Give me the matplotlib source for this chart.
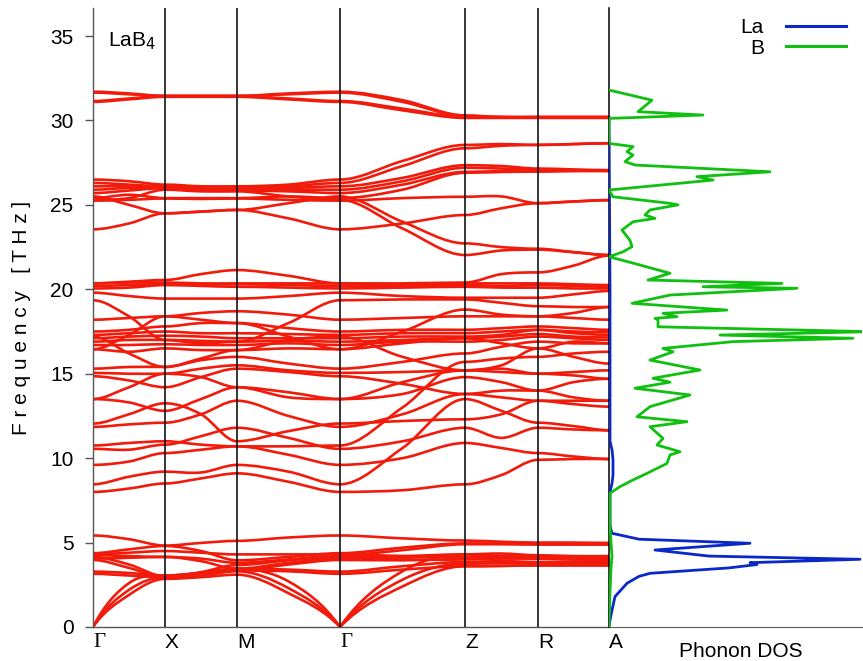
import numpy as np
import matplotlib
matplotlib.use('Agg')
import matplotlib.pyplot as plt
from matplotlib.path import Path
from matplotlib.patches import PathPatch
from matplotlib.lines import Line2D

plt.rcParams['font.family'] = ['Liberation Sans', 'DejaVu Sans']

# high-symmetry path
kpath_labels = ['Γ', 'X', 'M', 'Γ', 'Z', 'R', 'A']
kpath_pos = [0, 72, 144, 247, 372, 445, 516]

# frequencies (THz) read at  Γ, ½, X, ½, M, ½, Γ, ½, Z, ½, R, ½, A
bands_acoustic = [
    [0, 1.9, 2.85, 2.95, 3.1, 2.0, 0, 2.4, 3.6, 3.62, 3.65, 3.65, 3.65],
    [0, 2.2, 2.95, 3.05, 3.3, 2.3, 0, 2.8, 3.75, 3.78, 3.8, 3.8, 3.8],
    [0, 2.6, 3.05, 3.2, 3.45, 2.7, 0, 3.3, 4.3, 4.2, 4.1, 4.05, 4.0],
]
bands_low = [
    [5.42, 5.2, 4.82, 4.98, 5.1, 5.3, 5.42, 5.25, 5.12, 5.05, 5.0, 5.0, 4.98],
    [4.37, 4.6, 4.8, 4.5, 3.95, 4.15, 4.37, 4.7, 4.95, 4.95, 4.95, 4.93, 4.92],
    [4.25, 4.2, 4.15, 4.05, 3.8, 4.0, 4.25, 4.55, 4.9, 4.9, 4.88, 4.88, 4.88],
    [4.15, 3.7, 3.0, 3.25, 3.67, 3.95, 4.15, 4.2, 4.3, 4.35, 4.25, 4.2, 4.2],
    [4.05, 4.1, 4.15, 3.9, 3.45, 3.8, 4.05, 4.1, 4.15, 4.2, 4.15, 4.12, 4.1],
    [3.97, 3.5, 2.95, 3.1, 3.35, 3.7, 3.97, 3.95, 4.0, 4.05, 4.05, 4.0, 4.0],
    [3.28, 3.2, 3.05, 3.2, 3.45, 3.4, 3.28, 3.6, 3.85, 3.9, 3.85, 3.85, 3.85],
    [3.15, 3.05, 2.95, 3.05, 3.35, 3.3, 3.15, 3.4, 3.6, 3.62, 3.65, 3.65, 3.65],
    [4.3, 4.4, 4.5, 4.4, 4.3, 4.3, 4.3, 4.2, 4.1, 4.1, 4.05, 4.0, 4.0],
]
bands_mid = [
    [8.0, 8.2, 8.5, 8.8, 9.1, 8.6, 8.0, 8.1, 8.45, 9.0, 9.9, 9.95, 9.95],
    [8.45, 8.9, 9.2, 9.15, 9.6, 9.2, 8.45, 10.6, 13.5, 12.8, 12.1, 11.9, 11.65],
    [9.6, 9.8, 10.3, 10.5, 10.7, 10.2, 9.6, 10.0, 10.9, 10.6, 10.3, 10.1, 9.95],
    [10.55, 10.5, 10.8, 11.3, 11.8, 11.2, 10.55, 11.0, 11.8, 11.2, 11.8, 11.7, 11.65],
    [10.75, 10.9, 11.0, 10.8, 10.7, 10.7, 10.75, 13.0, 15.7, 15.9, 16.0, 16.2, 16.3],
    [11.85, 12.0, 12.1, 12.6, 13.4, 12.5, 11.85, 12.6, 13.8, 14.0, 14.0, 13.6, 13.4],
    [12.05, 12.6, 13.25, 12.6, 11.0, 11.6, 12.05, 12.2, 12.3, 12.6, 13.4, 13.2, 13.05],
    [13.5, 13.3, 12.8, 13.5, 14.2, 13.9, 13.5, 13.8, 14.8, 14.5, 14.0, 14.5, 14.7],
    [14.85, 14.6, 14.2, 14.8, 15.3, 15.1, 14.85, 14.4, 13.8, 13.6, 13.4, 13.4, 13.4],
    [15.05, 15.0, 15.0, 15.3, 15.5, 15.2, 15.05, 15.1, 15.2, 15.1, 15.0, 15.1, 15.2],
    [15.3, 15.4, 15.4, 15.8, 16.0, 15.6, 15.3, 15.7, 16.2, 16.6, 16.9, 16.8, 16.8],
    [16.45, 16.3, 16.5, 16.4, 16.4, 16.5, 16.45, 16.8, 17.1, 16.8, 16.5, 16.0, 15.6],
    [16.7, 16.7, 16.75, 16.7, 16.7, 16.8, 16.7, 16.9, 16.9, 17.0, 17.2, 17.1, 17.0],
    [16.9, 17.0, 17.0, 16.95, 16.9, 16.95, 16.9, 17.0, 17.1, 17.2, 17.35, 17.2, 17.15],
    [17.1, 17.2, 17.25, 17.2, 17.1, 17.1, 17.1, 17.2, 17.2, 17.3, 17.6, 17.4, 17.3],
    [17.3, 17.4, 17.5, 17.4, 17.4, 17.35, 17.3, 17.4, 17.4, 17.5, 17.6, 17.5, 17.45],
    [17.5, 17.6, 17.8, 18.0, 18.0, 17.7, 17.5, 17.6, 17.6, 17.7, 17.8, 17.7, 17.6],
    [18.2, 18.3, 18.4, 18.6, 18.7, 18.5, 18.2, 18.3, 18.4, 18.4, 18.4, 18.3, 18.2],
    [19.35, 18.4, 17.0, 16.8, 16.9, 18.0, 19.35, 19.4, 19.4, 19.2, 19.0, 18.95, 18.95],
    [19.8, 19.6, 19.45, 19.45, 19.45, 19.6, 19.8, 19.6, 19.5, 19.5, 19.5, 19.7, 19.9],
    [20.05, 20.1, 20.25, 20.2, 20.15, 20.1, 20.05, 20.1, 20.15, 20.1, 20.1, 20.05, 20.05],
    [20.2, 20.25, 20.3, 20.3, 20.3, 20.25, 20.2, 20.2, 20.25, 20.2, 20.25, 20.2, 20.15],
    [20.35, 20.4, 20.4, 20.35, 20.35, 20.35, 20.35, 20.3, 20.35, 20.35, 20.35, 20.3, 20.25],
    [17.2, 16.2, 15.4, 15.9, 16.4, 17.0, 17.2, 16.0, 15.2, 15.5, 16.5, 16.9, 16.8],
    [13.5, 14.2, 15.0, 14.8, 14.2, 13.6, 13.5, 14.5, 15.2, 15.3, 15.0, 14.9, 14.7],
    [16.45, 17.3, 18.4, 18.2, 18.0, 17.2, 16.45, 17.5, 18.8, 18.5, 18.4, 18.6, 18.95],
    [20.35, 20.45, 20.55, 20.9, 21.14, 20.8, 20.35, 20.35, 20.4, 20.9, 21.0, 21.4, 22.0],
]
bands_high = [
    [26.5, 26.4, 26.2, 26.1, 26.1, 26.2, 26.5, 27.6, 28.55, 28.6, 28.55, 28.6, 28.65],
    [26.3, 26.2, 26.1, 26.05, 26.05, 26.1, 26.3, 27.3, 28.35, 28.5, 28.55, 28.6, 28.65],
    [26.1, 26.1, 26.05, 26.0, 26.0, 26.0, 26.1, 26.6, 27.35, 27.3, 27.15, 27.1, 27.05],
    [25.9, 26.0, 26.0, 25.95, 25.9, 25.9, 25.9, 26.4, 27.2, 27.15, 27.1, 27.05, 27.05],
    [25.7, 25.85, 26.0, 25.9, 25.85, 25.8, 25.7, 26.2, 26.95, 27.0, 27.0, 27.05, 27.05],
    [25.4, 25.6, 25.4, 25.4, 25.4, 25.5, 25.4, 25.9, 26.9, 26.95, 26.97, 27.0, 27.0],
    [25.25, 25.3, 25.38, 25.35, 25.38, 25.3, 25.25, 25.4, 25.48, 25.5, 25.1, 25.2, 25.28],
    [25.5, 25.0, 24.5, 24.6, 24.7, 25.1, 25.5, 24.0, 22.72, 22.5, 22.4, 22.2, 22.03],
    [23.55, 23.9, 24.5, 24.6, 24.7, 24.2, 23.55, 23.9, 24.4, 24.8, 25.1, 25.2, 25.28],
    [25.3, 25.4, 25.9, 25.8, 25.8, 25.5, 25.3, 23.6, 22.03, 22.3, 22.35, 22.2, 22.03],
]
bands_top = [
    [31.7, 31.6, 31.45, 31.45, 31.45, 31.6, 31.7, 31.2, 30.3, 30.2, 30.2, 30.2, 30.2],
    [31.65, 31.55, 31.45, 31.45, 31.45, 31.55, 31.65, 31.1, 30.25, 30.2, 30.2, 30.2, 30.2],
    [31.15, 31.3, 31.45, 31.45, 31.45, 31.3, 31.15, 30.7, 30.2, 30.2, 30.2, 30.2, 30.2],
    [31.1, 31.25, 31.4, 31.4, 31.4, 31.25, 31.1, 30.6, 30.15, 30.15, 30.15, 30.15, 30.15],
]

# projected phonon DOS (arb. units)
dos_B_freq = [0, 2.0, 3.5, 4.2, 5.0, 6.0, 7.5, 7.92, 8.31, 8.71, 9.1, 9.69, 10.19, 10.38,
              10.78, 11.17, 11.86, 12.16, 12.45, 13.05, 13.74, 14.14, 14.5, 14.73, 15.22,
              15.81, 16.3, 16.5, 16.9, 17.1, 17.29, 17.49, 17.78, 18.18, 18.28, 18.38,
              18.58, 18.77, 19.17, 19.66, 20.06, 20.15, 20.35, 20.55, 20.95, 21.44, 21.93,
              22.22, 22.52, 22.9, 23.51, 24.0, 24.2, 24.4, 24.7, 25.0, 25.09, 25.48, 25.88,
              26.47, 26.67, 26.96, 27.36, 27.56, 27.95, 28.15, 28.45, 28.64, 30.12, 30.32,
              30.52, 31.2, 31.8]
dos_B = [0.0, 0.01, 0.02, 0.03, 0.02, 0.01, 0.01, 0.01, 0.11, 0.24, 0.38, 0.58, 0.61, 0.71,
         0.48, 0.54, 0.41, 0.78, 0.28, 0.41, 0.81, 0.26, 0.61, 0.44, 0.91,
         0.41, 0.64, 0.54, 1.24, 2.44, 1.11, 2.6, 0.49, 0.49, 0.46, 0.68,
         0.54, 1.18, 0.23, 0.61, 1.88, 0.94, 1.73, 0.39, 0.61, 0.31, 0.0,
         0.14, 0.23, 0.21, 0.13, 0.24, 0.46, 0.36, 0.41, 0.69, 0.61, 0.04, 0.0,
         1.04, 0.88, 1.61, 0.26, 0.16, 0.24, 0.18, 0.24, 0.0, 0.0, 0.94,
         0.29, 0.43, 0.0]
dos_La_freq = [0, 0.41, 1.0, 1.8, 2.59, 3.0, 3.18, 3.5, 3.7, 3.81, 4.01, 4.2, 4.56, 4.96,
               5.2, 5.55, 6.0, 8.0, 8.5, 9.0, 9.89, 10.5, 11.0, 13.0, 20.0, 30.2]
dos_La = [0.0, 0.01, 0.03, 0.06, 0.18, 0.3, 0.41, 1.2, 1.48, 1.41, 2.51, 1.0, 0.46, 1.41,
          0.3, 0.03, 0.01, 0.01, 0.03, 0.04, 0.04, 0.03, 0.01, 0.01, 0.01, 0.0]

red = '#f21a0a'
col_La = '#0a28c8'
col_B = '#10c010'

# k grid: high-symmetry points plus segment midpoints
kgrid = []
for a, b in zip(kpath_pos[:-1], kpath_pos[1:]):
    kgrid += [a, (a + b) / 2]
kgrid.append(kpath_pos[-1])
kgrid = np.array(kgrid, float)


def slope(v, i, side):
    if i % 2 == 1:
        return (v[i + 1] - v[i - 1]) / (kgrid[i + 1] - kgrid[i - 1])
    if v[i] == 0:
        if side == 'right':
            return 1.6 * v[i + 1] / (kgrid[i + 1] - kgrid[i])
        return -1.6 * v[i - 1] / (kgrid[i] - kgrid[i - 1])
    return 0.0


def band_path(vals):
    v = np.asarray(vals, float)
    verts = [(kgrid[0], v[0])]
    codes = [Path.MOVETO]
    for i in range(len(v) - 1):
        h = kgrid[i + 1] - kgrid[i]
        s0 = slope(v, i, 'right')
        s1 = slope(v, i + 1, 'left')
        verts += [(kgrid[i] + h / 3, v[i] + s0 * h / 3),
                  (kgrid[i + 1] - h / 3, v[i + 1] - s1 * h / 3),
                  (kgrid[i + 1], v[i + 1])]
        codes += [Path.CURVE4] * 3
    return Path(verts, codes)


fig = plt.figure(figsize=(8.63, 6.61), dpi=100)
ax = fig.add_axes([93 / 863, 34 / 661, 516 / 863, 619 / 661])
ax2 = fig.add_axes([609 / 863, 34 / 661, 253 / 863, 619 / 661], sharey=ax)

for group in (bands_acoustic, bands_low, bands_mid, bands_high, bands_top):
    for b in group:
        ax.add_patch(PathPatch(band_path(b), fill=False, edgecolor=red, lw=1.9,
                               capstyle='round', joinstyle='round', zorder=2))

for k in kpath_pos[1:-1]:
    ax.axvline(k, color='black', lw=1.1, zorder=3)

ax.set_xlim(kpath_pos[0], kpath_pos[-1])
ax.set_ylim(0, 36.66)
ax.set_xticks(kpath_pos)
ax.set_xticklabels(kpath_labels, fontsize=15, ha='left')
for lab in ax.get_xticklabels():
    if lab.get_text() == 'Γ':
        lab.set_fontfamily('Liberation Serif')
ax.tick_params(axis='x', length=0, pad=4)
ax.set_yticks(range(0, 36, 5))
ax.tick_params(axis='y', direction='out', length=6, width=1, labelsize=15, pad=8, color='#555555')
ax.set_ylabel('F r e q u e n c y   [ T H z ]', fontsize=15, labelpad=14)
for s in ('top', 'right'):
    ax.spines[s].set_visible(False)
for s in ('left', 'bottom'):
    ax.spines[s].set_color('#555555')
    ax.spines[s].set_linewidth(1.0)
ax.text(15, 34.7, 'LaB$_4$', fontsize=15, va='center')

ax2.plot(dos_La, dos_La_freq, color=col_La, lw=2.0, zorder=3)
ax2.plot(dos_B, dos_B_freq, color=col_B, lw=2.0, zorder=4)
ax2.set_xlim(0, 2.53)
ax2.set_xticks([])
ax2.tick_params(axis='y', left=False, labelleft=False)
ax2.text(1.32, -0.025, 'Phonon DOS', fontsize=15, ha='center', va='top',
         transform=ax2.get_xaxis_transform())
for s in ('top', 'right'):
    ax2.spines[s].set_visible(False)
ax2.spines['left'].set_color('black')
ax2.spines['left'].set_linewidth(1.1)
ax2.spines['bottom'].set_color('#555555')

handles = [Line2D([], [], color=col_La, lw=2.2), Line2D([], [], color=col_B, lw=2.2)]
ax2.legend(handles, ['La', 'B'], loc='upper right', bbox_to_anchor=(1.012, 1.014),
           frameon=False, markerfirst=False, fontsize=15, handlelength=2.9,
           handletextpad=1.05, labelspacing=0.08)

fig.savefig('out.png', dpi=100)
